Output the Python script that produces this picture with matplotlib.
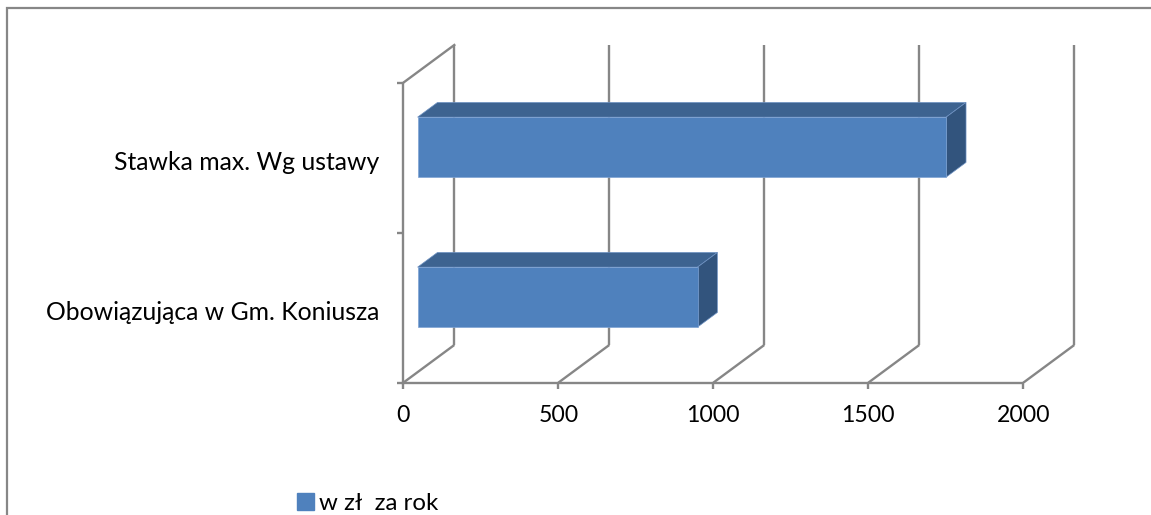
import matplotlib
matplotlib.use("Agg")
import matplotlib.pyplot as plt
from matplotlib.patches import Polygon, Rectangle, Patch

categories = ["Obowiązująca w Gm. Koniusza", "Stawka max. Wg ustawy"]
values = [903, 1705]
series_label = "w zł  za rok"
xticks = [0, 500, 1000, 1500, 2000]

W, H = 1151, 515
fig = plt.figure(figsize=(W / 100, H / 100), dpi=100)
plt.rcParams["font.family"] = ["Lato", "DejaVu Sans"]

# axes geometry (pixels)
x0_px, floor_px = 403.3, 382.7
px_per_val = 0.31
px_per_cat = 150.0
ax_w_px, ax_h_px = 700.0, 350.0
ax = fig.add_axes([x0_px / W, (H - floor_px) / H, ax_w_px / W, ax_h_px / H])
ax.set_xlim(0, ax_w_px / px_per_val)
ax.set_ylim(0, ax_h_px / px_per_cat)
ax.patch.set_alpha(0)

DX = 51 / px_per_val       # depth offset in value units
DY = 37.7 / px_per_cat     # depth offset in category units
d1, d2 = 0.28, 0.67        # bar front/back depth fraction
half_h = 0.2
ncat = len(categories)

gcol = "#868686"
glw = 1.7
# floor diagonals and back wall gridlines
for v in xticks:
    ax.plot([v, v + DX], [0, DY], color=gcol, lw=glw, solid_capstyle="butt", zorder=1)
    ax.plot([v + DX, v + DX], [DY, ncat + DY], color=gcol, lw=glw, solid_capstyle="butt", zorder=1)
# left wall top edge
ax.plot([0, DX], [ncat, ncat + DY], color=gcol, lw=glw, zorder=1)

front_c = "#4F81BD"
top_c = "#3D6390"
side_c = "#32547D"
for i, v in enumerate(values):
    xa = d1 * DX
    xb = v + d1 * DX
    yb = i + 0.5 - half_h + d1 * DY
    yt = i + 0.5 + half_h + d1 * DY
    ddx = (d2 - d1) * DX
    ddy = (d2 - d1) * DY
    ax.add_patch(Polygon([(xa, yt), (xb, yt), (xb + ddx, yt + ddy), (xa + ddx, yt + ddy)],
                         closed=True, facecolor=top_c, edgecolor="#6f93c4", lw=0.5, zorder=3))
    ax.add_patch(Polygon([(xb, yb), (xb + ddx, yb + ddy), (xb + ddx, yt + ddy), (xb, yt)],
                         closed=True, facecolor=side_c, edgecolor="#6f93c4", lw=0.5, zorder=3))
    ax.add_patch(Rectangle((xa, yb), v, yt - yb, facecolor=front_c,
                           edgecolor="#7fa3d4", lw=0.5, zorder=4))

for s in ["top", "right"]:
    ax.spines[s].set_visible(False)
for s in ["left", "bottom"]:
    ax.spines[s].set_color(gcol)
    ax.spines[s].set_linewidth(glw)
ax.spines["left"].set_bounds(0, ncat)
ax.spines["bottom"].set_bounds(0, 2000)

fs_num = 16.6
fs_cat = 17.8
ax.set_xticks(xticks)
ax.set_xticklabels([str(t) for t in xticks], fontsize=fs_num)
ax.tick_params(axis="x", direction="out", length=4.3, width=glw, color=gcol, pad=12)
ax.set_yticks(range(ncat + 1))
ax.set_yticklabels([])
ax.tick_params(axis="y", which="major", direction="out", length=4.3, width=glw, color=gcol)
ax.set_yticks([i + 0.48 for i in range(ncat)], minor=True)
ax.set_yticklabels(categories, minor=True, fontsize=fs_cat)
ax.tick_params(axis="y", which="minor", length=0, pad=17)

# legend
fig.legend(handles=[Patch(facecolor=front_c, edgecolor=front_c)], labels=[series_label],
           loc="center left", bbox_to_anchor=(297 / W, 1 - 503 / H), frameon=False,
           fontsize=17.3, handlelength=0.72, handleheight=0.72, handletextpad=0.2,
           borderpad=0, borderaxespad=0)

# outer chart border
fig.patches.append(Rectangle((7 / W, -0.1), 1.2, 1 - 8 / H + 0.1, transform=fig.transFigure,
                             fill=False, edgecolor="#878787", lw=1.6, zorder=0))

fig.savefig("out.png", dpi=100)
